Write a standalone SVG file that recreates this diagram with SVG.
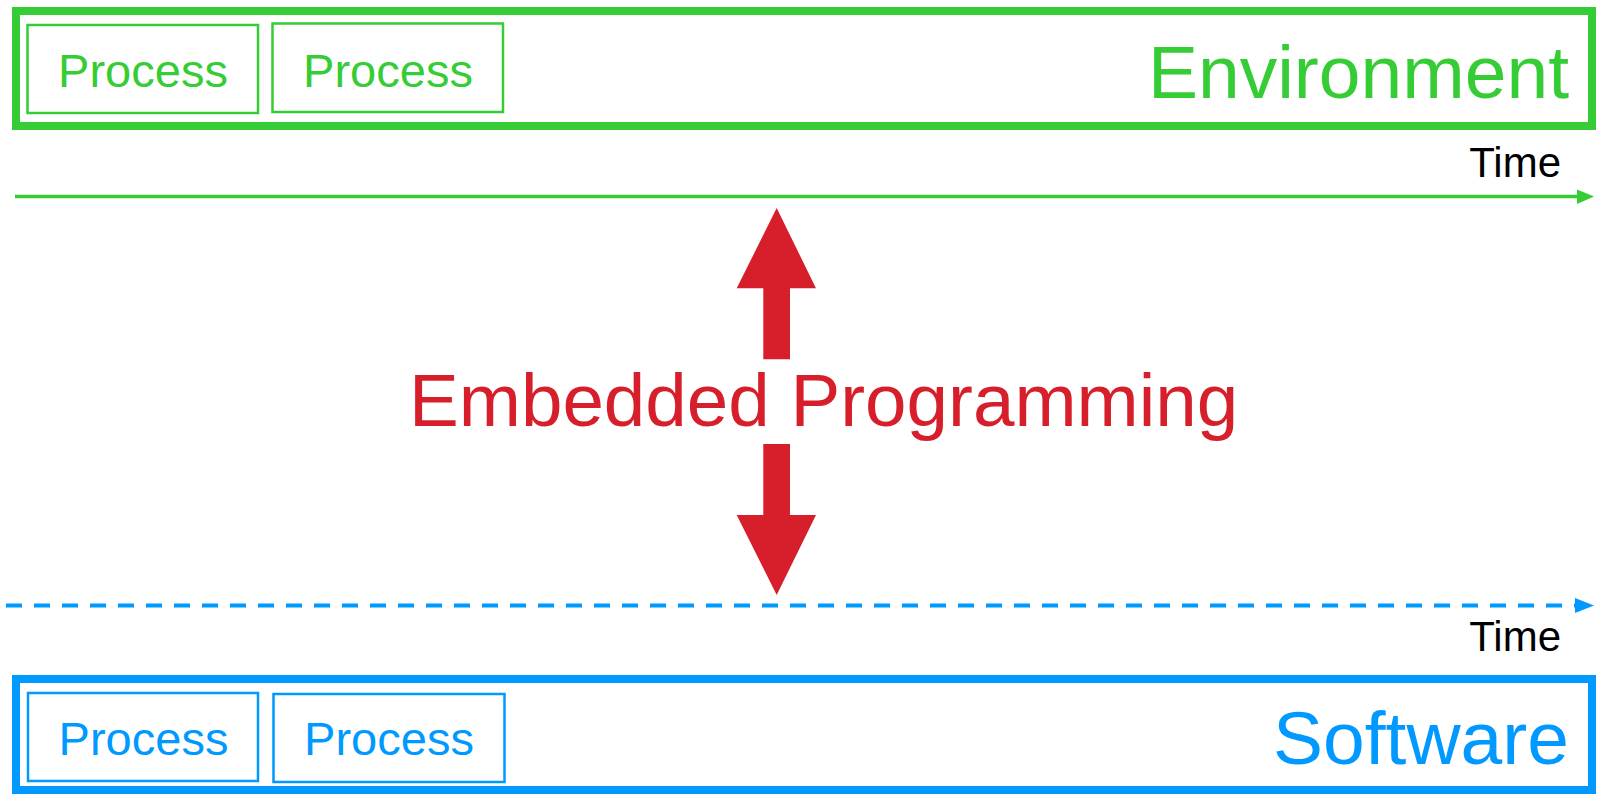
<svg xmlns="http://www.w3.org/2000/svg" width="1598" height="794" viewBox="0 0 1598 794">
  <defs>
    <style>
      text { font-family: "Liberation Sans", Arial, sans-serif; }
      .env { stroke: #35CC35; fill: none; }
      .sw { stroke: #0099FF; fill: none; }
      .env-text { fill: #35CC35; }
      .sw-text { fill: #0099FF; }
      .outer { stroke-width: 8; }
      .proc { stroke-width: 2.5; }
      .proc-label { font-size: 47px; text-anchor: middle; }
      .title { font-size: 75px; text-anchor: end; }
      .time { font-size: 42px; text-anchor: end; fill: #000; }
      .red { fill: #D71F2B; }
    </style>
  </defs>

  <!-- Environment layer -->
  <g id="environment">
    <rect class="env outer" x="16" y="11" width="1576" height="115"/>
    <text class="env-text title" x="1569" y="98">Environment</text>
  </g>
  <g id="env-process-1">
    <rect class="env proc" x="27.5" y="25" width="230.5" height="88"/>
    <text class="env-text proc-label" x="143" y="87">Process</text>
  </g>
  <g id="env-process-2">
    <rect class="env proc" x="272.5" y="23.5" width="230.5" height="88.5"/>
    <text class="env-text proc-label" x="388" y="87">Process</text>
  </g>

  <!-- Software layer -->
  <g id="software">
    <rect class="sw outer" x="16" y="679" width="1576" height="111"/>
    <text class="sw-text title" x="1569" y="764">Software</text>
  </g>
  <g id="sw-process-1">
    <rect class="sw proc" x="28" y="693" width="230" height="88"/>
    <text class="sw-text proc-label" x="143.5" y="755">Process</text>
  </g>
  <g id="sw-process-2">
    <rect class="sw proc" x="273.5" y="694" width="231" height="88"/>
    <text class="sw-text proc-label" x="389" y="755">Process</text>
  </g>

  <!-- Time axes -->
  <g id="connectors">
    <line x1="15" y1="196.5" x2="1580" y2="196.5" stroke="#35CC35" stroke-width="3.5"/>
    <polygon points="1577,189.5 1594,196.5 1577,204" fill="#35CC35"/>
    <line x1="6" y1="605.5" x2="1578" y2="605.5" stroke="#0099FF" stroke-width="4" stroke-dasharray="16 12"/>
    <polygon points="1575,598 1594,605.5 1575,613" fill="#0099FF"/>
  </g>
  <g id="time-labels">
    <text class="time" x="1561" y="177">Time</text>
    <text class="time" x="1561" y="651">Time</text>
  </g>

  <!-- Embedded programming bridge -->
  <g id="embedded-programming">
    <polygon class="red" points="776.7,208 816,288.3 790,288.3 790,359.3 763.3,359.3 763.3,288.3 736.7,288.3"/>
    <polygon class="red" points="776.7,595 816,515 790,515 790,444 763.3,444 763.3,515 736.7,515"/>
    <text class="red" x="409" y="426" font-size="74.6">Embedded Programming</text>
  </g>
</svg>
